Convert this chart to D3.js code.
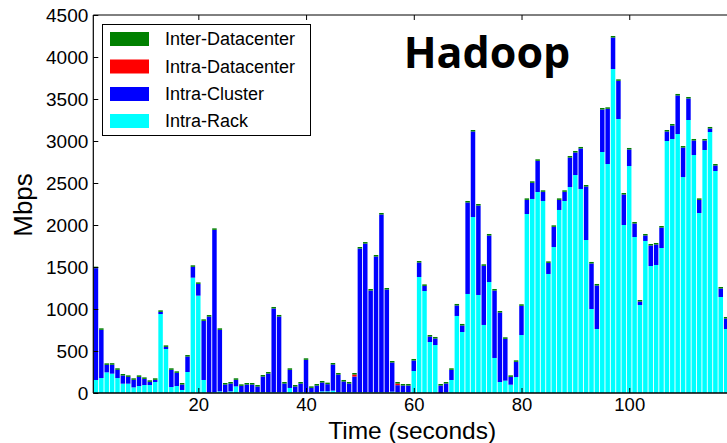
<!DOCTYPE html>
<html>
<head>
<meta charset="utf-8">
<script src="https://cdn.jsdelivr.net/npm/d3@7"></script>
<style>
  body { margin: 0; background: #fff; }
  svg { display: block; font-family: "Liberation Sans", Arial, sans-serif; }
</style>
</head>
<body>
<div id="chart"></div>
<script>
// seconds 1..118
const seconds = d3.range(1, 119);

const intraRack = [
  155, 178, 246, 230, 178, 111, 111, 67, 83, 95,
  95, 131, 940, 524, 71, 83, 36, 250, 1373, 1159,
  155, 5, 10, 20, 8, 20, 79, 10, 10, 12,
  10, 10, 10, 10, 10, 10, 60, 10, 10, 10,
  10, 10, 20, 20, 28, 10, 10, 10, 10, 10,
  10, 10, 10, 10, 10, 16, 10, 10, 10, 262,
  1381, 1214, 607, 571, 0, 10, 155, 917, 726, 1179,
  2095, 1167, 810, 1321, 417, 131, 147, 99, 190, 690,
  2131, 2310, 2393, 2286, 1417, 1738, 2179, 2286, 2452, 2595,
  2429, 1821, 1000, 762, 2869, 2726, 3857, 3262, 2000, 2702,
  1857, 1048, 1810, 1512, 1524, 1726, 3000, 3024, 3083, 2571,
  3250, 2833, 2143, 2893, 3107, 2643, 1143, 762
];

const intraCluster = [
  1331, 574, 89, 107, 98, 97, 81, 90, 109, 73,
  38, 26, 26, 25, 205, 157, 65, 184, 129, 140,
  704, 905, 1932, 732, 93, 93, 78, 75, 91, 89,
  67, 186, 222, 996, 901, 103, 216, 67, 103, 385,
  51, 79, 105, 85, 311, 210, 127, 103, 186, 1710,
  1769, 1210, 1615, 2115, 1222, 347, 83, 79, 79, 125,
  172, 61, 65, 78, 89, 103, 121, 125, 78, 1089,
  1018, 1065, 704, 554, 803, 827, 498, 93, 181, 348,
  168, 192, 371, 109, 132, 240, 120, 109, 351, 268,
  482, 637, 542, 518, 506, 657, 375, 454, 363, 197,
  161, 41, 65, 244, 244, 244, 113, 160, 459, 351,
  256, 173, 156, 113, 42, 65, 101, 125
];

const intraDatacenter = [
  0, 0, 0, 0, 0, 0, 0, 0, 0, 0,
  0, 0, 0, 0, 0, 0, 0, 0, 0, 0,
  0, 0, 0, 0, 0, 0, 0, 0, 0, 0,
  0, 0, 0, 0, 0, 0, 0, 0, 0, 0,
  0, 0, 0, 0, 0, 0, 0, 0, 24, 0,
  0, 0, 0, 0, 0, 0, 20, 0, 0, 0,
  0, 0, 0, 0, 0, 0, 0, 0, 0, 0,
  0, 0, 0, 0, 0, 0, 0, 0, 0, 0,
  0, 0, 0, 0, 0, 0, 0, 0, 0, 0,
  0, 0, 0, 0, 0, 0, 0, 0, 0, 0,
  0, 0, 0, 0, 0, 0, 0, 0, 0, 0,
  0, 0, 0, 0, 0, 0, 0, 0
];

const interDatacenter = [
  18, 18, 18, 18, 18, 18, 18, 18, 18, 18,
  18, 18, 18, 18, 18, 18, 18, 18, 18, 18,
  18, 18, 18, 18, 18, 18, 18, 18, 18, 18,
  18, 18, 18, 18, 18, 18, 18, 18, 18, 18,
  18, 18, 18, 18, 18, 18, 18, 18, 18, 18,
  18, 18, 18, 18, 18, 18, 18, 18, 18, 18,
  18, 18, 18, 18, 18, 18, 18, 18, 18, 18,
  18, 18, 18, 18, 18, 18, 18, 18, 18, 18,
  18, 18, 18, 18, 18, 18, 18, 18, 18, 18,
  18, 18, 18, 18, 18, 18, 18, 18, 18, 18,
  18, 18, 18, 18, 18, 18, 18, 18, 18, 18,
  18, 18, 18, 18, 18, 18, 18, 18
];

const seriesKeys = ['Intra-Rack', 'Intra-Cluster', 'Intra-Datacenter', 'Inter-Datacenter'];
const seriesColors = ['#00ffff', '#0000ff', '#ff0000', '#008000'];
const legendOrder = ['Inter-Datacenter', 'Intra-Datacenter', 'Intra-Cluster', 'Intra-Rack'];
const yTicks = [0, 500, 1000, 1500, 2000, 2500, 3000, 3500, 4000, 4500];
const xTicks = [20, 40, 60, 80, 100];

const W = 727, H = 443;
const plot = { left: 93.3, right: 728.9, top: 15, bottom: 393 };

const rows = seconds.map((s, i) => ({
  t: s,
  'Intra-Rack': intraRack[i],
  'Intra-Cluster': intraCluster[i],
  'Intra-Datacenter': intraDatacenter[i],
  'Inter-Datacenter': interDatacenter[i]
}));

const svg = d3.select('#chart').append('svg').attr('width', W).attr('height', H);

const x = d3.scaleLinear().domain([0.5, 118.5]).range([plot.left, plot.right]);
const y = d3.scaleLinear().domain([0, 4500]).range([plot.bottom, plot.top]);
const color = d3.scaleOrdinal().domain(seriesKeys).range(seriesColors);

const stacked = d3.stack().keys(seriesKeys)(rows);

// bars
svg.append('g')
  .selectAll('g')
  .data(stacked)
  .join('g')
  .attr('fill', d => color(d.key))
  .selectAll('rect')
  .data(d => d)
  .join('rect')
  .attr('x', d => x(d.data.t - 0.5) + 0.4)
  .attr('width', d => x(d.data.t + 0.5) - x(d.data.t - 0.5) - 0.9)
  .attr('y', d => y(d[1]))
  .attr('height', d => Math.max(0, y(d[0]) - y(d[1])));

// axes, ticks pointing inward
const yAxis = svg.append('g')
  .attr('transform', `translate(${plot.left},0)`)
  .call(d3.axisLeft(y).tickValues(yTicks).tickSize(-5).tickPadding(5).tickFormat(d3.format('d')));
yAxis.selectAll('text').attr('font-size', 19).attr('fill', '#000');

const xAxis = svg.append('g')
  .attr('transform', `translate(0,${plot.bottom})`)
  .call(d3.axisBottom(x).tickValues(xTicks).tickSize(-5).tickPadding(5).tickFormat(d3.format('d')));
xAxis.selectAll('text').attr('font-size', 18.5).attr('fill', '#000');

const topAxis = svg.append('g')
  .attr('transform', `translate(0,${plot.top})`)
  .call(d3.axisTop(x).tickValues(xTicks).tickSize(-5).tickFormat(''));

[yAxis, xAxis, topAxis].forEach(a => {
  a.select('.domain').remove();
  a.selectAll('line').attr('stroke', '#000');
  a.attr('font-family', null);
});

// spines
svg.append('line').attr('x1', plot.left).attr('x2', W).attr('y1', plot.top).attr('y2', plot.top)
  .attr('stroke', '#000').attr('stroke-width', 1);
svg.append('line').attr('x1', plot.left).attr('x2', plot.left).attr('y1', plot.top).attr('y2', plot.bottom)
  .attr('stroke', '#000').attr('stroke-width', 1.2);
svg.append('line').attr('x1', plot.left).attr('x2', W).attr('y1', plot.bottom).attr('y2', plot.bottom)
  .attr('stroke', '#000').attr('stroke-width', 1.6);

// axis titles
svg.append('text')
  .attr('x', (plot.left + W) / 2 + 2).attr('y', 439)
  .attr('text-anchor', 'middle').attr('font-size', 24.5)
  .text('Time (seconds)');

svg.append('text')
  .attr('transform', 'translate(32,205) rotate(-90)')
  .attr('text-anchor', 'middle').attr('font-size', 26)
  .text('Mbps');

// title
svg.append('text')
  .attr('x', 487).attr('y', 68)
  .attr('text-anchor', 'middle')
  .attr('font-family', '"Open Sans", Lato, sans-serif')
  .attr('font-weight', 'bold').attr('font-size', 43)
  .text('Hadoop');

// legend
const lg = svg.append('g');
lg.append('rect')
  .attr('x', 102.5).attr('y', 24.5).attr('width', 208).attr('height', 111)
  .attr('fill', '#fff').attr('stroke', '#000').attr('stroke-width', 1);
const rowY = [39, 66.5, 94, 121];
legendOrder.forEach((k, i) => {
  lg.append('rect')
    .attr('x', 110).attr('y', rowY[i] - 7).attr('width', 39).attr('height', 14)
    .attr('fill', color(k));
  lg.append('text')
    .attr('x', 165).attr('y', rowY[i]).attr('dy', '0.35em')
    .attr('font-size', 18).text(k);
});
</script>
</body>
</html>
